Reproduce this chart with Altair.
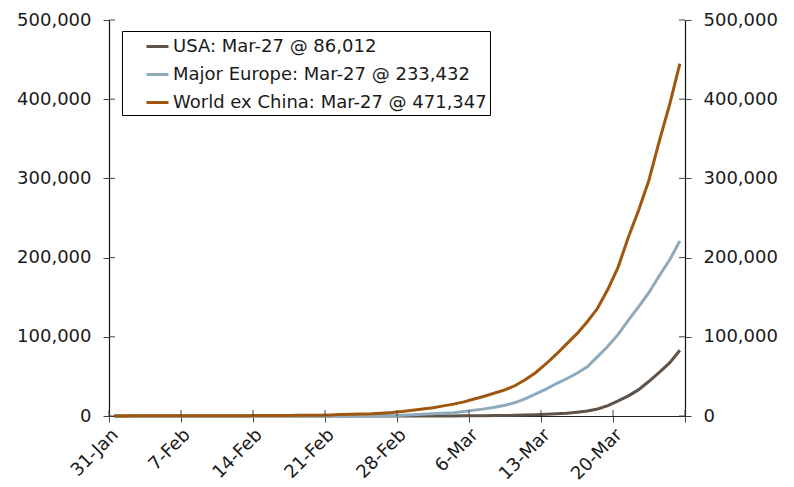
import altair as alt
import pandas as pd

# Daily observation dates (one slot per day, 31 Jan .. 26 Mar 2020)
days = pd.date_range("2020-01-31", periods=56, freq="D").strftime("%Y-%m-%d").tolist()

# Weekly axis ticks; the last one closes the axis and carries no label
tick_days = ["2020-01-31", "2020-02-07", "2020-02-14", "2020-02-21", "2020-02-28",
             "2020-03-06", "2020-03-13", "2020-03-20", "2020-03-27"]
y_ticks = [0, 100000, 200000, 300000, 400000, 500000]

# Cumulative confirmed cases
usa = [7, 8, 8, 11, 11, 12, 12, 12, 12, 12,
       12, 13, 13, 14, 15, 15, 15, 15, 15, 15,
       15, 35, 35, 35, 53, 53, 59, 60, 62, 70,
       76, 101, 122, 153, 221, 278, 417, 537, 605, 959,
       1281, 1663, 2179, 2727, 3499, 4632, 6421, 8800, 13000, 19101,
       25493, 33276, 43847, 55000, 67000, 83000]
europe = [20, 22, 25, 27, 30, 31, 32, 34, 40, 42,
          45, 45, 46, 46, 46, 46, 46, 46, 46, 46,
          47, 65, 120, 200, 280, 380, 520, 760, 1100, 1500,
          2100, 2700, 3400, 4200, 5600, 7400, 9000, 11000, 13500, 17000,
          22000, 28000, 34000, 41000, 47000, 54000, 62000, 75000, 88000, 103000,
          121000, 138000, 156000, 177000, 197000, 221000]
world = [140, 150, 160, 170, 190, 215, 240, 275, 290, 310,
         320, 400, 410, 450, 520, 560, 690, 700, 800, 900,
         1080, 1400, 1750, 2100, 2500, 2900, 3600, 4400, 5600, 7200,
         8800, 10500, 12800, 15000, 17800, 21500, 25000, 29000, 33000, 38500,
         46000, 55000, 66000, 78000, 91000, 104000, 119000, 136000, 160000, 188000,
         226000, 260000, 298000, 347000, 393000, 445000]

series_names = ["USA", "Major Europe", "World ex China"]
latest_date = "Mar-27"
latest_values = [86012, 233432, 471347]
series_colors = ["#5f5248", "#8eaabb", "#a0560f"]

legend_labels = [f"{n}: {latest_date} @ {v:,}" for n, v in zip(series_names, latest_values)]

rows = []
for label, vals in zip(legend_labels, [usa, europe, world]):
    for d, v in zip(days, vals):
        rows.append({"day": d, "series": label, "cases": v})
df = pd.DataFrame(rows)
ticks_x_df = pd.DataFrame({"day": tick_days})
ticks_y_df = pd.DataFrame({"v": y_ticks})

W, H = 576, 396
FONT = "DejaVu Sans"
TXT = "#1a1a1a"

x_dom = [alt.DateTime(year=2020, month=1, date=31, utc=True),
         alt.DateTime(year=2020, month=3, date=27, utc=True)]
x_vals = [alt.DateTime(year=int(s[:4]), month=int(s[5:7]), date=int(s[8:]), utc=True)
          for s in tick_days]
x_scale = alt.Scale(type="utc", domain=x_dom, nice=False)
y_scale = alt.Scale(domain=[0, 500000], nice=False)

x_axis = alt.Axis(
    values=x_vals, title=None, grid=False,
    labelExpr="(utcmonth(datum.value) == 2 && utcdate(datum.value) == 27) ? '' : utcFormat(datum.value, '%-d-%b')",
    labelAngle=-45, labelAlign="right", labelBaseline="middle",
    labelFont=FONT, labelFontSize=18, labelColor=TXT, labelPadding=10, labelOffset=6,
    domainColor="#222222", domainWidth=1.2, tickColor="#444444", tickSize=6,
)
y_label_expr = "format(datum.value, ',.0f')"
y_axis_left = alt.Axis(
    values=y_ticks, title=None, grid=False, labelExpr=y_label_expr,
    labelFont=FONT, labelFontSize=18, labelColor=TXT, labelPadding=12,
    domainColor="#111111", domainWidth=1.2, tickColor="#444444", tickSize=6,
)
y_axis_right = alt.Axis(
    values=y_ticks, title=None, grid=False, labelExpr=y_label_expr, orient="right",
    labelFont=FONT, labelFontSize=18, labelColor=TXT, labelPadding=12,
    domainColor="#111111", domainWidth=1.2, tickColor="#444444", tickSize=6,
)

# Daily points sit in the middle of their one-day slot
mid_day = "toDate(datum.day) + 43200000"

lines = alt.Chart(df).transform_calculate(t=mid_day).mark_line(
    strokeWidth=3, interpolate="linear"
).encode(
    x=alt.X("t:T", scale=x_scale, axis=x_axis),
    y=alt.Y("cases:Q", scale=y_scale, axis=y_axis_left),
    color=alt.Color(
        "series:N",
        scale=alt.Scale(domain=legend_labels, range=series_colors),
        legend=alt.Legend(
            title=None, orient="none", legendX=13, legendY=11,
            strokeColor="#000000", fillColor="#ffffff", padding=3,
            symbolType="stroke", symbolSize=484, symbolStrokeWidth=3,
            symbolOffset=20, labelOffset=3, rowPadding=6,
            labelFont=FONT, labelFontSize=18, labelColor=TXT, labelLimit=500,
        ),
    ),
)

# Inner halves of the cross-style tick marks
xt_inner = alt.Chart(ticks_x_df).transform_calculate(t="toDate(datum.day)").mark_rule(
    color="#444444", strokeWidth=1
).encode(
    x=alt.X("t:T", scale=x_scale, axis=x_axis),
    y=alt.value(H - 6), y2=alt.value(H),
)
yt_left = alt.Chart(ticks_y_df).mark_rule(color="#444444", strokeWidth=1).encode(
    y=alt.Y("v:Q", scale=y_scale, axis=y_axis_left),
    x=alt.value(0), x2=alt.value(6),
)
yt_right = alt.Chart(ticks_y_df).mark_rule(color="#444444", strokeWidth=1).encode(
    y=alt.Y("v:Q", scale=y_scale, axis=y_axis_left),
    x=alt.value(W - 6), x2=alt.value(W),
)

inner = alt.layer(lines, xt_inner, yt_left, yt_right)

# Secondary axis on the right with the same range
right = alt.Chart(df).transform_calculate(t=mid_day).mark_line(strokeOpacity=0).encode(
    x=alt.X("t:T", scale=x_scale, axis=x_axis),
    y=alt.Y("cases:Q", scale=y_scale, axis=y_axis_right),
    detail="series:N",
)

chart = alt.layer(inner, right).resolve_scale(y="independent").properties(
    width=W, height=H,
    autosize=alt.AutoSizeParams(type="none"),
    padding={"left": 109, "top": 20, "right": 109, "bottom": 71},
    background="#ffffff",
).configure_view(stroke=None)

chart.save("out.html", embed_options={"renderer": "svg", "actions": False})
